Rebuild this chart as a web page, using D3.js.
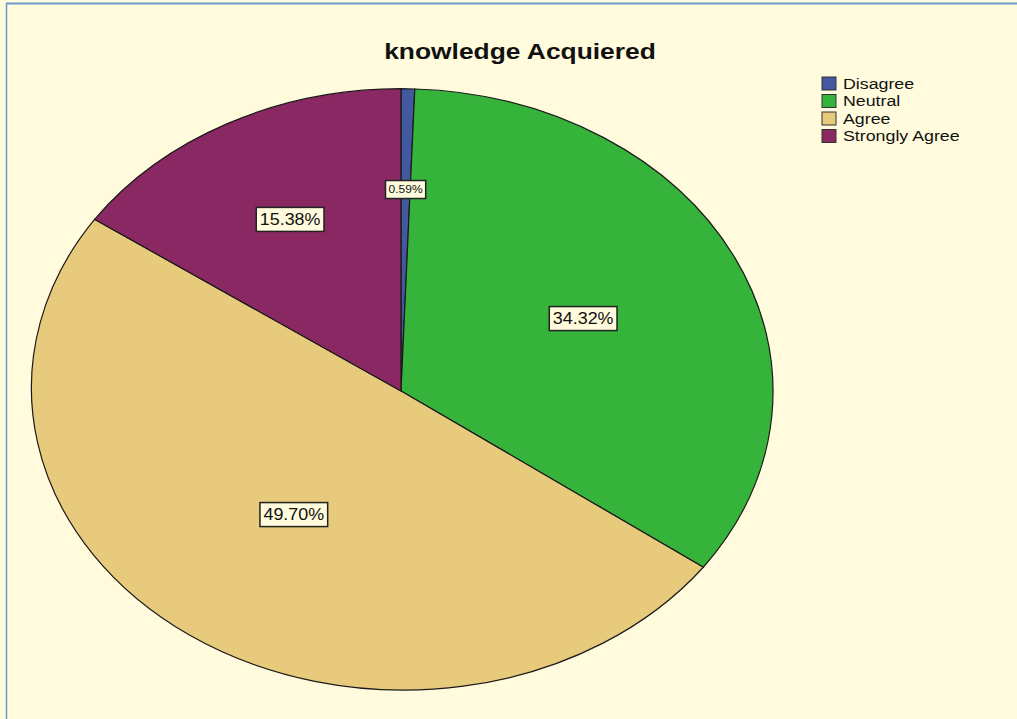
<!DOCTYPE html>
<html>
<head>
<meta charset="utf-8">
<script src="https://cdn.jsdelivr.net/npm/d3@7"></script>
<style>
  html, body { margin: 0; padding: 0; background: #fffbdc; }
  svg { display: block; }
  text { font-family: "Liberation Sans", Arial, sans-serif; }
</style>
</head>
<body>
<div id="chart"></div>
<script>
// chart data
var categories = ["Disagree", "Neutral", "Agree", "Strongly Agree"];
var percents = [0.59, 34.32, 49.70, 15.38];
var labels = ["0.59%", "34.32%", "49.70%", "15.38%"];
var colors = ["#42599f", "#36b33a", "#e8ca7c", "#8a2863"];
var title = "knowledge Acquiered";

var width = 1017, height = 719;
var cx = 401, cy = 391, rx = 372.3, ry = 302.3;

var svg = d3.select("#chart").append("svg")
    .attr("width", width)
    .attr("height", height);

// background + frame
svg.append("rect").attr("width", width).attr("height", height).attr("fill", "#fffbdc");
svg.append("line").attr("x1", 6).attr("x2", width).attr("y1", 3.5).attr("y2", 3.5)
    .attr("stroke", "#6c9bd4").attr("stroke-width", 2);
svg.append("line").attr("x1", 6.5).attr("x2", 6.5).attr("y1", 3).attr("y2", height)
    .attr("stroke", "#6c9bd4").attr("stroke-width", 1.5);

// title (source rendering is stretched horizontally)
svg.append("text")
    .attr("transform", "translate(520,59) scale(1.2,1)")
    .attr("text-anchor", "middle")
    .attr("font-size", 22)
    .attr("font-weight", "bold")
    .attr("fill", "#111")
    .text(title);

// pie
var pie = d3.pie().sort(null).value(function(d){ return d; });
var arcs = pie(percents);
var arc = d3.arc().innerRadius(0).outerRadius(1);

var pieG = svg.append("g")
    .attr("transform", "translate(" + cx + "," + cy + ") scale(" + rx + "," + ry + ")");

pieG.selectAll("path.slice")
    .data(arcs)
    .enter()
    .append("path")
    .attr("class", "slice")
    .attr("d", arc)
    .attr("fill", function(d, i){ return colors[i]; })
    .attr("stroke", "#1a1a1a")
    .attr("stroke-width", 1.2)
    .attr("vector-effect", "non-scaling-stroke");

// labels near slice area centroid
function labelPos(d){
    var half = (d.endAngle - d.startAngle) / 2;
    var mid = d.startAngle + half;
    var r = Math.max(0.5, 2 * Math.sin(half) / (3 * half));
    return [cx + r * Math.sin(mid) * rx, cy - r * Math.cos(mid) * ry];
}

var labelG = svg.append("g");
arcs.forEach(function(d, i){
    var p = labelPos(d);
    var small = percents[i] < 2;
    var fs = small ? 10 : 16;
    var sx = small ? 1.2 : 1.12;
    var g = labelG.append("g").attr("transform", "translate(" + p[0] + "," + p[1] + ")");
    var rect = g.append("rect");
    var t = g.append("text")
        .attr("transform", "scale(" + sx + ",1)")
        .attr("text-anchor", "middle")
        .attr("dy", "0.36em")
        .attr("font-size", fs)
        .attr("fill", "#111")
        .text(labels[i]);
    var bb = t.node().getBBox();
    var w = bb.width * sx + (small ? 6 : 7);
    var h = small ? 18 : 24;
    rect.attr("x", -w / 2).attr("y", -h / 2)
        .attr("width", w).attr("height", h)
        .attr("fill", "#fffbdc")
        .attr("stroke", "#222")
        .attr("stroke-width", 1.5);
});

// legend
var legend = svg.append("g").attr("transform", "translate(822,77)");
var rows = legend.selectAll("g.row")
    .data(categories)
    .enter()
    .append("g")
    .attr("class", "row")
    .attr("transform", function(d, i){ return "translate(0," + (i * 17.5) + ")"; });
rows.append("rect")
    .attr("width", 14).attr("height", 13)
    .attr("fill", function(d, i){ return colors[i]; })
    .attr("stroke", "#333").attr("stroke-width", 1);
rows.append("text")
    .attr("transform", "translate(21,11.5) scale(1.27,1)")
    .attr("font-size", 14)
    .attr("fill", "#111")
    .text(function(d){ return d; });
</script>
</body>
</html>
